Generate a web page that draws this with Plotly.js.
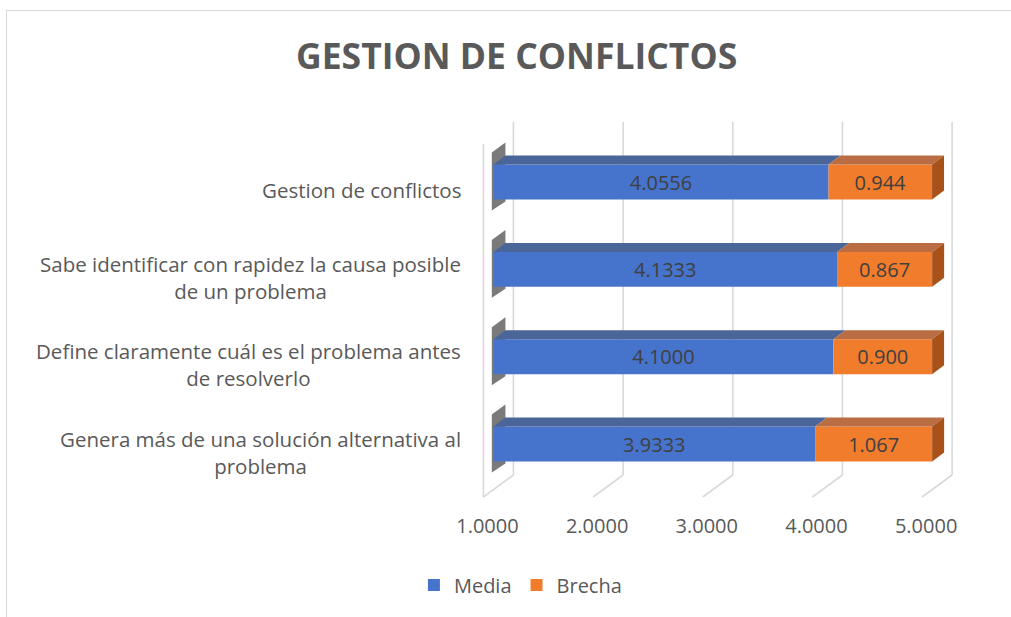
<!DOCTYPE html>
<html>
<head>
<meta charset="utf-8">
<script src="https://cdn.plot.ly/plotly-3.0.1.min.js"></script>
<style>
  html, body { margin: 0; padding: 0; background: #ffffff; overflow: hidden; }
  #chart { position: absolute; left: 0; top: 0; width: 1011px; height: 617px; }
  #frame { position: absolute; left: 6px; top: 10px; width: 1100px; height: 700px;
           border: 1px solid #d9d9d9; pointer-events: none; }
</style>
</head>
<body>
<div id="chart"></div>
<div id="frame"></div>
<script>
// ---- data ----
const categories = [
  "Gestion de conflictos",
  "Sabe identificar con rapidez la causa posible de un problema",
  "Define claramente cuál es el problema antes de resolverlo",
  "Genera más de una solución alternativa al problema"
];
const categoryLabels = [
  "Gestion de conflictos",
  "Sabe identificar con rapidez la causa posible<br>de un problema",
  "Define claramente cuál es el problema antes<br>de resolverlo",
  "Genera más de una solución alternativa al<br>problema"
];
const media  = [4.0556, 4.1333, 4.1000, 3.9333];
const brecha = [0.944, 0.867, 0.900, 1.067];
const tickValues = [1, 2, 3, 4, 5];
const tickLabels = ["1.0000", "2.0000", "3.0000", "4.0000", "5.0000"];
const seriesNames = ["Media", "Brecha"];
const chartTitle = "GESTION DE CONFLICTOS";

// ---- styling / geometry ----
const axisMin = 1;
const xRange = [0.85, 5.3];
const marginL = 476.5, marginR = 45.5;
const plotW = 1011 - marginL - marginR;
const pxPerUnit = plotW / (xRange[1] - xRange[0]);
const yRange = [3.641, -0.687];
const marginT = 122, marginB = 117.2;
const barWidth = 0.4;
const plotH = 617 - marginT - marginB;
const slotPx = plotH / Math.abs(yRange[0] - yRange[1]);
const halfH = barWidth * slotPx / 2;
const depthX = 12 / pxPerUnit, depthY = 9;     // bar depth
const floorFront = -10, floorBack = 20;         // px offsets of floor lines
const FONT = "Open Sans, Noto Sans, sans-serif";
const textCol = "#595959";
const blue = "#4673CC", blueTop = "#4A6598";
const orange = "#F17C2C", orangeTop = "#BA6C42", orangeSide = "#A8521A";

const yIdx = categories.map((c, i) => i);

const traces = [
  {
    type: "bar", orientation: "h", name: seriesNames[0],
    y: yIdx, base: axisMin, x: media.map(v => v - axisMin),
    width: barWidth,
    text: media.map(v => v.toFixed(4)),
    textposition: "inside", insidetextanchor: "middle", textangle: 0,
    constraintext: "none",
    insidetextfont: { family: FONT, size: 20, color: "#404040" },
    marker: { color: blue, line: { width: 0 } },
    hoverinfo: "none"
  },
  {
    type: "bar", orientation: "h", name: seriesNames[1],
    y: yIdx, base: media, x: brecha,
    width: barWidth,
    text: brecha.map(v => v.toFixed(3)),
    textposition: "inside", insidetextanchor: "middle", textangle: 0,
    constraintext: "none",
    insidetextfont: { family: FONT, size: 20, color: "#404040" },
    marker: { color: orange, line: { width: 0 } },
    hoverinfo: "none"
  }
];

const shapes = [];
// back gridlines + floor lines
tickValues.forEach(t => {
  shapes.push({ type: "line", layer: "below", xref: "x", yref: "paper",
    xsizemode: "pixel", xanchor: t, x0: floorBack, x1: floorBack,
    ysizemode: "pixel", yanchor: 0, y0: 25, y1: 378,
    line: { color: "#d9d9d9", width: 1.6 } });
  shapes.push({ type: "line", layer: "below", xref: "x", yref: "paper",
    xsizemode: "pixel", xanchor: t, x0: floorFront, x1: floorBack,
    ysizemode: "pixel", yanchor: 0, y0: 3, y1: 25,
    line: { color: "#d9d9d9", width: 1.6 } });
});
// left wall front edge
shapes.push({ type: "line", layer: "below", xref: "x", yref: "paper",
  xsizemode: "pixel", xanchor: axisMin, x0: floorFront, x1: floorFront,
  ysizemode: "pixel", yanchor: 0, y0: 3, y1: 356,
  line: { color: "#d9d9d9", width: 1.6 } });

// 3D faces of the bars
yIdx.forEach(i => {
  const m = media[i], t = media[i] + brecha[i];
  const h = halfH;
  const common = { type: "path", xref: "x", yref: "y", ysizemode: "pixel", yanchor: i,
                   line: { width: 0 } };
  // left shadow
  shapes.push(Object.assign({}, common, { layer: "below",
    path: `M ${axisMin - 0.015},${h + 12} L ${axisMin + depthX},${h + 22} L ${axisMin + depthX},${-h - 2} L ${axisMin - 0.015},${-h - 11} Z`,
    fillcolor: "rgba(50,50,50,0.65)" }));
  // top of media
  shapes.push(Object.assign({}, common, { layer: "above",
    path: `M ${axisMin},${h} L ${axisMin + depthX},${h + depthY} L ${m + depthX},${h + depthY} L ${m},${h} Z`,
    fillcolor: blueTop }));
  // top of brecha
  shapes.push(Object.assign({}, common, { layer: "above",
    path: `M ${m},${h} L ${m + depthX},${h + depthY} L ${t + depthX},${h + depthY} L ${t},${h} Z`,
    fillcolor: orangeTop }));
  // right side of brecha
  shapes.push(Object.assign({}, common, { layer: "above",
    path: `M ${t},${h} L ${t + depthX},${h + depthY} L ${t + depthX},${-h + depthY} L ${t},${-h} Z`,
    fillcolor: orangeSide }));
});

// category labels (centered multi-line)
const annotations = yIdx.map(i => ({
  xref: "paper", x: 0, xanchor: "right", xshift: -14.5,
  yref: "y", y: i, yanchor: "middle", yshift: -8,
  text: categoryLabels[i], showarrow: false, align: "center",
  font: { family: FONT, size: 20.5, color: textCol }
}));

const layout = {
  width: 1011, height: 617,
  margin: { l: marginL, r: marginR, t: marginT, b: marginB, pad: 0 },
  paper_bgcolor: "#ffffff", plot_bgcolor: "rgba(0,0,0,0)",
  title: {
    text: chartTitle, xref: "container", x: 0.511, xanchor: "center",
    yref: "container", y: 1 - 57 / 617, yanchor: "middle",
    font: { family: FONT, size: 35.5, color: textCol, weight: "bold" }
  },
  barmode: "overlay",
  showlegend: true,
  legend: {
    orientation: "h", xref: "paper", x: (520 - marginL) / plotW, xanchor: "center",
    yref: "paper", y: -85 / plotH, yanchor: "middle",
    font: { family: FONT, size: 20, color: textCol },
    itemwidth: 30, traceorder: "normal"
  },
  xaxis: {
    range: xRange, tickmode: "array", tickvals: tickValues, ticktext: tickLabels,
    showgrid: false, zeroline: false, showline: false, ticks: "",
    ticklabelshift: -6, ticklabelstandoff: 12,
    tickfont: { family: FONT, size: 20, color: textCol }, fixedrange: true
  },
  yaxis: {
    type: "linear", range: yRange, showgrid: false, zeroline: false,
    showline: false, showticklabels: false, ticks: "", fixedrange: true
  },
  shapes: shapes,
  annotations: annotations,
  hovermode: false
};

Plotly.newPlot("chart", traces, layout, { staticPlot: true, displayModeBar: false });
</script>
</body>
</html>
